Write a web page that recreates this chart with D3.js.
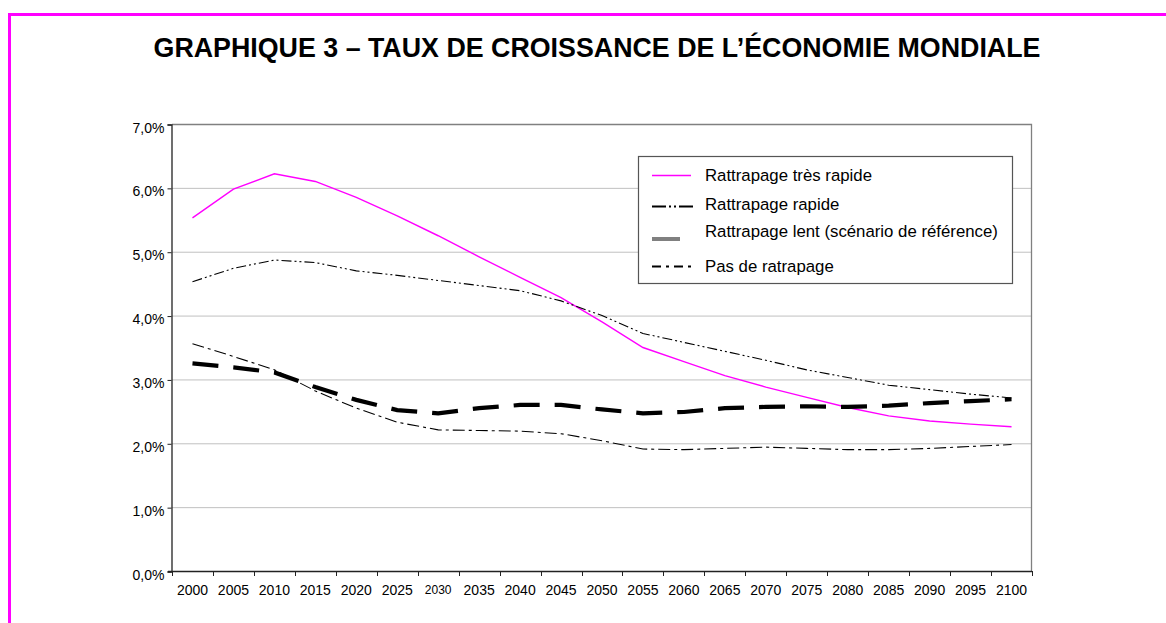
<!DOCTYPE html>
<html>
<head>
<meta charset="utf-8">
<script src="https://cdn.jsdelivr.net/npm/d3@7"></script>
<style>
  body { margin: 0; background: #fff; }
  svg { display: block; font-family: "Liberation Sans", Arial, sans-serif; }
</style>
</head>
<body>
<svg id="chart" width="1166" height="623"></svg>
<script>
// Years on the category axis
const years = ["2000","2005","2010","2015","2020","2025","2030","2035","2040","2045","2050",
               "2055","2060","2065","2070","2075","2080","2085","2090","2095","2100"];

// Growth rates of world output, in % per year
const rattrapageTresRapide = [5.53,5.98,6.22,6.10,5.85,5.56,5.25,4.92,4.60,4.28,3.90,
                              3.50,3.28,3.06,2.88,2.72,2.56,2.43,2.35,2.30,2.26];
const rattrapageRapide     = [4.53,4.74,4.87,4.83,4.70,4.63,4.55,4.47,4.39,4.23,4.00,
                              3.72,3.58,3.44,3.30,3.15,3.03,2.91,2.84,2.77,2.71];
const rattrapageLent       = [3.25,3.19,3.11,2.88,2.68,2.52,2.47,2.55,2.60,2.60,2.53,
                              2.47,2.49,2.55,2.57,2.58,2.57,2.59,2.63,2.66,2.69];
const pasDeRattrapage      = [3.56,3.36,3.15,2.82,2.55,2.33,2.21,2.20,2.19,2.15,2.04,
                              1.91,1.90,1.92,1.94,1.92,1.90,1.90,1.92,1.95,1.98];

const yTicks = [0,1,2,3,4,5,6,7];
const legendLabels = ["Rattrapage très rapide","Rattrapage rapide",
                      "Rattrapage lent (scénario de référence)","Pas de ratrapage"];
const titleText = "GRAPHIQUE 3 – TAUX DE CROISSANCE DE L’ÉCONOMIE MONDIALE";

const svg = d3.select("#chart");

// Outer frame (top and left edges)
svg.append("path")
  .attr("d", "M9.5,623 L9.5,14.5 L1170,14.5")
  .attr("fill", "none").attr("stroke", "#ff00ff").attr("stroke-width", 3);

svg.append("text")
  .attr("x", 597).attr("y", 57)
  .attr("text-anchor", "middle")
  .attr("font-weight", "bold").attr("font-size", 26.8)
  .attr("fill", "#000")
  .text(titleText);

const plot = { left: 172, right: 1032, top: 124, bottom: 571 };

const x = d3.scaleBand().domain(years).range([plot.left, plot.right]).padding(0);
const y = d3.scaleLinear().domain([0, 7]).range([plot.bottom, plot.top]);

const fr = d3.formatLocale({ decimal: ",", thousands: " ", grouping: [3], currency: ["", " €"] });
const fmtPct = v => fr.format(".1f")(v) + "%";

// Horizontal gridlines
svg.append("g").selectAll("line")
  .data(yTicks.filter(d => d > 0 && d < 7))
  .join("line")
  .attr("x1", plot.left).attr("x2", plot.right)
  .attr("y1", d => y(d) + 0.5).attr("y2", d => y(d) + 0.5)
  .attr("stroke", "#c0c0c0").attr("stroke-width", 1);

// Plot frame: top and right edges
svg.append("path")
  .attr("d", `M${plot.left},${y(7) + 0.5} H${plot.right - 0.5} V${plot.bottom}`)
  .attr("fill", "none").attr("stroke", "#808080").attr("stroke-width", 1.3);

// Y axis
const yAxis = svg.append("g")
  .attr("transform", `translate(${plot.left - 0.5},0.5)`)
  .call(d3.axisLeft(y).tickValues(yTicks).tickFormat(fmtPct).tickSize(4).tickPadding(3));
yAxis.select(".domain").attr("stroke", "#222").attr("stroke-width", 1.3);
yAxis.selectAll(".tick line").attr("stroke", "#222");
yAxis.selectAll(".tick text")
  .attr("font-size", 14).attr("dy", "0.54em")
  .attr("font-family", "Liberation Sans, Arial, sans-serif").attr("fill", "#000");

// X axis: labels under each category, ticks on the category boundaries
const xAxis = svg.append("g")
  .attr("transform", `translate(0,${plot.bottom + 0.5})`)
  .call(d3.axisBottom(x).tickSize(0).tickPadding(13.5));
xAxis.select(".domain").remove();
xAxis.selectAll(".tick text")
  .attr("font-size", d => d === "2030" ? 12 : 14)
  .attr("dy", "0.71em")
  .attr("font-family", "Liberation Sans, Arial, sans-serif").attr("fill", "#000");
svg.append("line")
  .attr("x1", plot.left - 4).attr("x2", plot.right)
  .attr("y1", plot.bottom + 0.5).attr("y2", plot.bottom + 0.5)
  .attr("stroke", "#222").attr("stroke-width", 1.3);
svg.append("g").selectAll("line")
  .data(years.map(d => x(d)).concat([x.range()[1]]))
  .join("line")
  .attr("x1", d => Math.round(d) + 0.5).attr("x2", d => Math.round(d) + 0.5)
  .attr("y1", plot.bottom).attr("y2", plot.bottom + 5)
  .attr("stroke", "#222");

// Series
const series = [
  { values: rattrapageTresRapide, stroke: "#ff00ff", width: 1.4, dash: null },
  { values: rattrapageRapide,     stroke: "#000",    width: 1.1, dash: "10,3,2,3,2,3" },
  { values: pasDeRattrapage,      stroke: "#000",    width: 1.1, dash: "12,4,3,4" },
  { values: rattrapageLent,       stroke: "#000",    width: 4.2, dash: "26,15" }
];

const line = d3.line()
  .x((d, i) => x(years[i]) + x.bandwidth() / 2)
  .y(d => y(d));

svg.append("g").selectAll("path")
  .data(series)
  .join("path")
  .attr("d", s => line(s.values))
  .attr("fill", "none")
  .attr("stroke", s => s.stroke)
  .attr("stroke-width", s => s.width)
  .attr("stroke-dasharray", s => s.dash);

// Legend
const lg = svg.append("g");
lg.append("rect")
  .attr("x", 638.5).attr("y", 156.5).attr("width", 374).attr("height", 127)
  .attr("fill", "#fff").attr("stroke", "#555").attr("stroke-width", 1.2);

const legendItems = [
  { label: legendLabels[0], textY: 181, symY: 175.5, x2: 691, stroke: "#ff00ff", width: 1.4, dash: null },
  { label: legendLabels[1], textY: 210, symY: 206.5, x2: 693, stroke: "#000", width: 1.8, dash: "14,3,2,3,2,3" },
  { label: legendLabels[2], textY: 237, symY: 239, x2: 680, stroke: "#808080", width: 4, dash: null },
  { label: legendLabels[3], textY: 272, symY: 266.5, x2: 692, stroke: "#000", width: 1.8, dash: "9,5,3,5" }
];

lg.selectAll("line")
  .data(legendItems)
  .join("line")
  .attr("x1", 652).attr("x2", d => d.x2)
  .attr("y1", d => d.symY).attr("y2", d => d.symY)
  .attr("stroke", d => d.stroke)
  .attr("stroke-width", d => d.width)
  .attr("stroke-dasharray", d => d.dash);

lg.selectAll("text")
  .data(legendItems)
  .join("text")
  .attr("x", 705).attr("y", d => d.textY)
  .attr("font-size", 16.8).attr("fill", "#000")
  .text(d => d.label);
</script>
</body>
</html>
